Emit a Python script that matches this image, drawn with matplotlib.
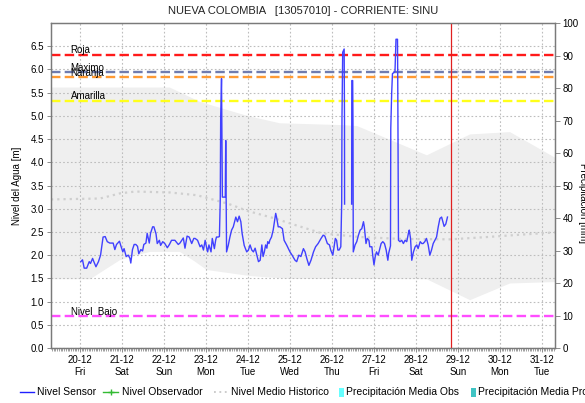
import matplotlib
matplotlib.use("Agg")
import matplotlib.pyplot as plt
import numpy as np
from matplotlib.lines import Line2D
from matplotlib.patches import Rectangle
from matplotlib.ticker import MultipleLocator, FormatStrFormatter

W, H = 585, 403
NAN = float("nan")

# Sensor level, day of December (fractional) -> metres (nan = gap in record)
SENSOR_DAY = [
    20.02, 20.06, 20.10, 20.16, 20.22, 20.25, 20.30, 20.33, 20.38, 20.44,
    20.49, 20.55, 20.60, 20.65, 20.71, 20.79, 20.83, 20.87, 20.94, 20.97,
    21.02, 21.05, 21.10, 21.15, 21.19, 21.21, 21.25, 21.29, 21.33, 21.37,
    21.40, 21.45, 21.49, 21.52, 21.57, 21.60, 21.65, 21.68, 21.73, 21.76,
    21.81, 21.84, 21.89, 21.92, 21.97, 22.02, 22.08, 22.13, 22.18, 22.26,
    22.34, 22.38, 22.46, 22.50, 22.55, 22.60, 22.66, 22.71, 22.74, 22.80,
    22.86, 22.90, 22.94, 22.98, 23.02, 23.04, 23.07, 23.12, 23.15, 23.20,
    23.23, 23.25, 23.29, 23.32, 23.34, 23.35, 23.37, 23.39, 23.46, 23.47,
    23.49, 23.53, 23.57, 23.61, 23.65, 23.69, 23.71, 23.75, 23.79, 23.83,
    23.86, 23.91, 23.97, 24.01, 24.05, 24.09, 24.13, 24.17, 24.21, 24.25,
    24.29, 24.33, 24.36, 24.39, 24.42, 24.45, 24.47, 24.50, 24.52, 24.56,
    24.60, 24.63, 24.66, 24.68, 24.72, 24.76, 24.82, 24.86, 24.92, 25.00,
    25.05, 25.12, 25.16, 25.21, 25.26, 25.32, 25.36, 25.40, 25.45, 25.50,
    25.56, 25.61, 25.67, 25.74, 25.79, 25.83, 25.89, 25.94, 25.97, 26.02,
    26.05, 26.08, 26.11, 26.14, 26.17, 26.21, 26.231, 26.238, 26.255, 26.290,
    26.298, 26.300, 26.400, 26.468, 26.472, 26.493, 26.500, 26.507, 26.55, 26.59,
    26.63, 26.67, 26.71, 26.75, 26.77, 26.81, 26.84, 26.88, 26.90, 26.95,
    26.97, 27.00, 27.03, 27.06, 27.10, 27.13, 27.17, 27.21, 27.25, 27.29,
    27.33, 27.35, 27.393, 27.400, 27.421, 27.440, 27.500, 27.524, 27.560,
    27.567, 27.583, 27.62, 27.66, 27.70, 27.74, 27.78, 27.82, 27.84, 27.87,
    27.90, 27.94, 27.98, 28.02, 28.05, 28.10, 28.14, 28.17, 28.21, 28.25,
    28.29, 28.33, 28.37, 28.41, 28.45, 28.49, 28.53, 28.57, 28.61, 28.64,
    28.67, 28.71, 28.75,
]
SENSOR_LEVEL = [
    1.86, 1.90, 1.72, 1.72, 1.86, 1.82, 1.93, 1.86, 1.75, 1.86,
    2.00, 2.39, 2.40, 2.29, 2.26, 2.26, 2.12, 2.23, 2.30, 2.21,
    2.07, 2.14, 1.97, 2.00, 1.93, 1.83, 2.12, 2.23, 2.23, 2.19,
    2.03, 2.12, 2.09, 2.23, 2.26, 2.47, 2.26, 2.47, 2.61, 2.61,
    2.46, 2.25, 2.32, 2.21, 2.29, 2.25, 2.16, 2.23, 2.32, 2.32,
    2.23, 2.26, 2.37, 2.15, 2.41, 2.39, 2.25, 2.36, 2.36, 2.32,
    2.18, 2.22, 2.11, 2.32, 2.14, 2.07, 2.22, 2.07, 2.36, 2.14,
    2.32, 2.39, 2.39, 2.40, 3.20, 4.97, 5.80, 3.25, 3.25, 4.47,
    2.07, 2.21, 2.39, 2.54, 2.61, 2.75, 2.82, 2.72, 2.84, 2.72,
    2.47, 2.21, 2.07, 2.11, 2.22, 2.11, 2.07, 2.15, 2.00, 1.86,
    1.89, 2.22, 1.97, 2.07, 2.22, 2.15, 2.29, 2.25, 2.32, 2.39,
    2.54, 2.72, 2.90, 2.82, 2.61, 2.61, 2.57, 2.32, 2.22, 2.07,
    2.00, 1.89, 1.86, 2.00, 1.97, 2.14, 2.07, 1.93, 1.78, 1.89,
    2.07, 2.18, 2.25, 2.36, 2.43, 2.41, 2.25, 2.22, 2.11, 2.00,
    2.18, 2.36, 2.32, 2.11, 2.11, 2.18, 3.11, 4.95, 6.37, 6.44,
    4.90, 3.10, NAN, 3.10, 5.76, 5.76, 4.84, 2.07, 2.22, 2.29,
    2.43, 2.54, 2.57, 2.72, 2.61, 2.25, 2.36, 2.32, 2.18, 2.18,
    2.00, 1.79, 1.97, 2.07, 2.00, 2.11, 2.25, 2.29, 2.25, 2.11,
    1.89, 2.04, 2.20, 4.73, 5.48, 5.91, 5.95, 6.65, 6.65,
    5.55, 2.32, 2.29, 2.32, 2.25, 2.32, 2.29, 2.47, 2.54, 2.36,
    1.89, 2.07, 2.18, 2.22, 2.14, 2.29, 2.25, 2.25, 2.29, 2.36,
    2.22, 2.00, 2.11, 2.25, 2.32, 2.39, 2.61, 2.79, 2.82, 2.72,
    2.62, 2.67, 2.82,
]

# Historical mean level
MEAN_DAY = [19.31, 20.48, 20.95, 21.31, 22.14, 22.79, 23.52, 24.00, 24.64,
            25.12, 25.76, 26.67, 27.62, 28.81, 29.69, 30.48, 31.31]
MEAN_LEVEL = [3.20, 3.22, 3.33, 3.37, 3.35, 3.29, 3.11, 2.95, 2.79,
              2.65, 2.47, 2.39, 2.35, 2.34, 2.39, 2.44, 2.49]

# Historical range (upper / lower envelope)
UPPER_DAY = [19.31, 22.14, 22.86, 23.98, 24.76, 26.26, 26.60, 28.26, 29.29,
             30.24, 31.31]
UPPER_LEVEL = [5.61, 5.61, 5.30, 5.00, 4.84, 4.80, 4.78, 4.15, 4.60, 4.65, 4.10]
LOWER_DAY = [19.31, 20.24, 20.95, 21.36, 21.67, 22.38, 22.74, 23.02, 24.05,
             24.95, 28.26, 29.29, 30.24, 31.31]
LOWER_LEVEL = [1.48, 1.48, 1.89, 2.00, 2.07, 2.07, 1.86, 1.68, 1.55, 1.49,
               1.48, 1.03, 1.39, 1.42]

# Alert thresholds
THRESH_NAMES = ["Roja", "Maximo", "Naranja", "Amarilla", "Nivel  Bajo"]
THRESH_LEVEL = [6.32, 5.94, 5.83, 5.33, 0.69]
THRESH_COLORS = ["#ff1a1a", "#6f7caf", "#ff9a33", "#ffff1a", "#ff4dff"]

NOW_DAY = 28.83

TICK_DAYS = list(range(20, 32))
TICK_WEEKDAY = ["Fri", "Sat", "Sun", "Mon", "Tue", "Wed", "Thu", "Fri", "Sat",
                "Sun", "Mon", "Tue"]

plt.rcParams.update({
    "font.family": ["Liberation Sans", "DejaVu Sans"],
    "font.size": 7,
})

AXIS = "#7a7a7a"
GRID = "#bdbdbd"

fig = plt.figure(figsize=(W / 100, H / 100), dpi=100)
ax = fig.add_axes([51 / W, 1 - 348 / H, 504 / W, 325 / H])

ax.fill(UPPER_DAY + LOWER_DAY[::-1], UPPER_LEVEL + LOWER_LEVEL[::-1],
        color="#efefef", lw=0, zorder=0.3)

ax.plot(MEAN_DAY, MEAN_LEVEL, color="#cfcfcf", lw=1.6,
        linestyle=(0, (1, 1.8)), zorder=1.5)

for name, lvl, col in zip(THRESH_NAMES, THRESH_LEVEL, THRESH_COLORS):
    ax.axhline(lvl, color=col, lw=1.7, linestyle=(0, (4, 1.8)), zorder=2)
    ax.text(19.78, lvl + 0.03, name, fontsize=7, color="black",
            ha="left", va="baseline", zorder=4)

ax.plot(SENSOR_DAY, SENSOR_LEVEL, color="#4040ff", lw=1.0, zorder=3)

ax.axvline(NOW_DAY, color="#e02020", lw=0.9, zorder=3)

ax.set_xlim(19.31, 31.31)
ax.set_ylim(0, 7)
ax.set_yticks(np.arange(0, 6.6, 0.5))
ax.yaxis.set_major_formatter(FormatStrFormatter("%.1f"))
ax.set_xticks(TICK_DAYS)
ax.set_xticklabels([f"{d}-12\n{w}" for d, w in zip(TICK_DAYS, TICK_WEEKDAY)],
                   fontsize=7, linespacing=1.25)
ax.xaxis.set_minor_locator(MultipleLocator(1 / 24))
ax.tick_params(axis="x", which="minor", length=2, width=0.5, color=AXIS)
ax.tick_params(axis="x", which="major", length=3, width=0.6, color=AXIS, pad=2)
ax.tick_params(axis="y", length=3, width=0.6, color=AXIS, pad=2, labelsize=7)
ax.grid(True, which="major", color=GRID, lw=0.8, linestyle=(0, (1.5, 2)))
ax.set_axisbelow(True)
ax.set_ylabel("Nivel del Agua [m]", fontsize=7, labelpad=6)
for s in ax.spines.values():
    s.set_color(AXIS)
    s.set_linewidth(0.9)

ax2 = ax.twinx()
ax2.set_ylim(0, 100)
ax2.yaxis.set_major_locator(MultipleLocator(10))
ax2.tick_params(axis="y", length=3.5, width=0.6, color=AXIS, pad=2, labelsize=7)
for s in ax2.spines.values():
    s.set_color(AXIS)
    s.set_linewidth(0.9)
fig.text(583 / W, 1 - 203 / H, "Precipitación [mm]", rotation=270,
         fontsize=7, ha="center", va="center")

fig.text(303 / W, 1 - 11 / H, "NUEVA COLOMBIA   [13057010] - CORRIENTE: SINU",
         fontsize=8, ha="center", va="center", color="#222222")

# legend, drawn by hand along the bottom edge
ly = 1 - 392 / H
fs = 7.5
fig.add_artist(Line2D([20 / W, 34 / W], [ly, ly], color="#2020ff", lw=1.0))
fig.text(37 / W, ly, "Nivel Sensor", fontsize=fs, va="center")
fig.add_artist(Line2D([103 / W, 118 / W], [ly, ly], color="#33bb33", lw=1.0))
fig.add_artist(Line2D([110.5 / W], [ly], color="#33bb33", marker="+", ms=4,
                      mew=1.0))
fig.text(122 / W, ly, "Nivel Observador", fontsize=fs, va="center")
fig.add_artist(Line2D([214 / W, 228 / W], [ly, ly], color="#c8c8c8", lw=1.3,
                      linestyle=(0, (1, 2))))
fig.text(231 / W, ly, "Nivel Medio Historico", fontsize=fs, va="center")
fig.add_artist(Rectangle((339 / W, 1 - 397 / H), 5 / W, 9 / H,
                         transform=fig.transFigure, color="#66ffff", lw=0))
fig.text(346 / W, ly, "Precipitación Media Obs", fontsize=fs, va="center")
fig.add_artist(Rectangle((471 / W, 1 - 397 / H), 5 / W, 9 / H,
                         transform=fig.transFigure, color="#40c4c4", lw=0))
fig.text(478 / W, ly, "Precipitación Media Pronóstico", fontsize=fs,
         va="center")

fig.savefig("out.png", dpi=100)
